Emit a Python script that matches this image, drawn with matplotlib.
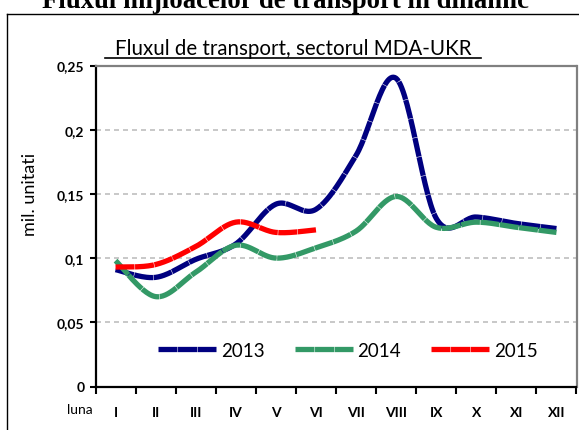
import numpy as np
import matplotlib
matplotlib.use("Agg")
import matplotlib.pyplot as plt
from matplotlib.lines import Line2D

months = ["I", "II", "III", "IV", "V", "VI", "VII", "VIII", "IX", "X", "XI", "XII"]
y2013 = [0.091, 0.085, 0.099, 0.111, 0.142, 0.138, 0.180, 0.240, 0.131, 0.132, 0.127, 0.123]
y2014 = [0.098, 0.070, 0.089, 0.110, 0.100, 0.108, 0.121, 0.148, 0.124, 0.128, 0.124, 0.120]
y2015 = [0.093, 0.095, 0.109, 0.128, 0.120, 0.122]
series = [("2013", y2013, "#000080"), ("2014", y2014, "#339966"), ("2015", y2015, "#FF0000")]
yticks = [0, 0.05, 0.1, 0.15, 0.2, 0.25]
ytick_labels = ["0", "0,05", "0,1", "0,15", "0,2", "0,25"]

W, H = 579, 431
fig = plt.figure(figsize=(W / 100, H / 100), dpi=100)
ax = fig.add_axes([95.5 / W, 1 - 387.5 / H, (576.5 - 95.5) / W, (387.5 - 66.5) / H])


def smooth(xs, ys, n=30):
    # Excel-like smoothed line (Bezier with 1/6 tangents)
    xs = np.asarray(xs, float)
    ys = np.asarray(ys, float)
    px = np.concatenate([[xs[0]], xs, [xs[-1]]])
    py = np.concatenate([[ys[0]], ys, [ys[-1]]])
    out_x, out_y = [], []
    t = np.linspace(0, 1, n)
    for i in range(1, len(px) - 2):
        p0 = np.array([px[i], py[i]])
        p3 = np.array([px[i + 1], py[i + 1]])
        c1 = p0 + (np.array([px[i + 1], py[i + 1]]) - np.array([px[i - 1], py[i - 1]])) / 6
        c2 = p3 - (np.array([px[i + 2], py[i + 2]]) - np.array([px[i], py[i]])) / 6
        b = ((1 - t) ** 3)[:, None] * p0 + (3 * (1 - t) ** 2 * t)[:, None] * c1 \
            + (3 * (1 - t) * t ** 2)[:, None] * c2 + (t ** 3)[:, None] * p3
        if out_x:
            b = b[1:]
        out_x.extend(b[:, 0])
        out_y.extend(b[:, 1])
    return np.array(out_x), np.array(out_y)


lw = 3.8
dash = (3.6, 0.1)
for name, vals, col in series:
    x = np.arange(len(vals))
    sx, sy = smooth(x, vals)
    ax.plot(sx, sy, color=col, lw=lw, dashes=dash, dash_capstyle="butt", label=name, zorder=3)

ax.set_xlim(-0.5, 11.5)
ax.set_ylim(0, 0.25)

# grid
for yv in yticks[1:-1]:
    ax.axhline(yv, color="#BFBFBF", lw=1.2, dashes=(3.0, 2.4), zorder=1)

ax.set_yticks(yticks)
ax.set_yticklabels(ytick_labels, fontfamily="Lato", fontweight="bold", fontsize=10)
ax.tick_params(axis="y", direction="out", length=4, width=1.5, color="black", pad=4)

ax.set_xticks(np.arange(-0.5, 12, 1.0))
ax.set_xticklabels([])
ax.tick_params(axis="x", which="major", direction="out", length=5, width=1.5, color="black")
ax.set_xticks(np.arange(12), minor=True)
ax.set_xticklabels(months, minor=True, fontfamily="Lato", fontweight="bold", fontsize=10)
ax.tick_params(axis="x", which="minor", length=0, pad=14)

for s in ["left", "bottom"]:
    ax.spines[s].set_color("black")
    ax.spines[s].set_linewidth(1.6)
for s in ["top", "right"]:
    ax.spines[s].set_color("#808080")
    ax.spines[s].set_linewidth(1.6)

ax.set_ylabel("mil. unitati", fontfamily="Lato", fontsize=13)
ax.yaxis.set_label_coords(-0.12, 0.6)

ax.text(80 / W, 1 - 410 / H, "luna", transform=fig.transFigure, ha="center", va="center",
        fontfamily="Lato", fontsize=10)

leg = ax.legend(loc="center", bbox_to_anchor=(0.525, 0.113), ncol=3, frameon=False,
                prop={"family": "Lato", "size": 13.5}, handlelength=3.1, handletextpad=0.25,
                columnspacing=1.6)

# subtitle (underlined)
fig.text(293 / W, 1 - 55 / H, "Fluxul de transport, sectorul MDA-UKR", ha="center",
         va="baseline", fontfamily="Lato", fontsize=14.8)
fig.add_artist(Line2D([105 / W, 481 / W], [1 - 59 / H, 1 - 59 / H], color="black", lw=1.2))

# main title (partly cut off at the top, as in the original)
fig.text(285 / W, 1 - 7.5 / H, "Fluxul mijloacelor de transport în dinamic", ha="center",
         va="baseline", fontfamily="Liberation Serif", fontweight="bold", fontsize=19.3)

# outer frame
fig.add_artist(Line2D([6.5 / W, 6.5 / W], [0, 1 - 14.5 / H], color="black", lw=1.0))
fig.add_artist(Line2D([6.5 / W, 1], [1 - 14.5 / H, 1 - 14.5 / H], color="black", lw=1.0))

fig.savefig("out.png", dpi=100)
